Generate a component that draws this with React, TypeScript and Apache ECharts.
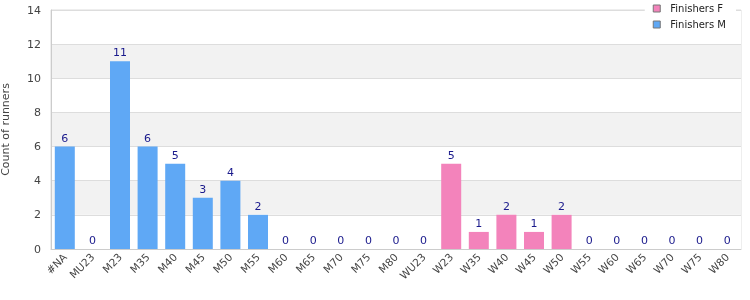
import React, { useEffect, useRef } from "react";
import * as echarts from "echarts";

const categories = ["#NA","MU23","M23","M35","M40","M45","M50","M55","M60","M65","M70","M75","M80","WU23","W23","W35","W40","W45","W50","W55","W60","W65","W70","W75","W80"];
const finishersM = [6,0,11,6,5,3,4,2,0,0,0,0,0,null,null,null,null,null,null,null,null,null,null,null,null];
const finishersF = [null,null,null,null,null,null,null,null,null,null,null,null,null,0,5,1,2,1,2,0,0,0,0,0,0];
const yTicks = [0, 14, 2];

export default function App() {
  const ref = useRef<HTMLDivElement>(null);
  useEffect(() => {
    const chart = echarts.init(ref.current!, null, { renderer: "svg" });
    const font = "DejaVu Sans";
    const label = { show: true, position: "top", color: "#1a1a8c", fontSize: 11, fontFamily: font, distance: 3 };
    chart.setOption({
      animation: false,
      textStyle: { fontFamily: font },
      legend: {
        top: 0, right: 14, orient: "vertical", itemWidth: 7, itemHeight: 7, itemGap: 3, icon: "rect",
        backgroundColor: "#fff", padding: [2, 10, 6, 8],
        textStyle: { fontSize: 10, color: "#222", fontFamily: font, lineHeight: 13, padding: [0, 0, 0, 5] },
        data: [
          { name: "Finishers F", itemStyle: { borderColor: "#777", borderWidth: 1 } },
          { name: "Finishers M", itemStyle: { borderColor: "#777", borderWidth: 1 } },
        ],
      },
      grid: { left: 51, right: 9, top: 10, bottom: 51, show: true, borderColor: "#ddd", borderWidth: 1, outerBoundsMode: "none", containLabel: false },
      xAxis: {
        type: "category", data: categories,
        axisLine: { lineStyle: { color: "#ccc" } }, axisTick: { show: false },
        axisLabel: { rotate: 45, fontSize: 10.5, color: "#444", fontFamily: font, interval: 0, margin: 6 },
      },
      yAxis: {
        type: "value", min: yTicks[0], max: yTicks[1], interval: yTicks[2],
        name: "Count of runners", nameLocation: "middle", nameGap: 40,
        nameTextStyle: { fontSize: 11, color: "#444", fontFamily: font },
        axisLine: { show: true, lineStyle: { color: "#ccc" } }, axisTick: { show: false },
        axisLabel: { fontSize: 11, color: "#444", fontFamily: font, margin: 10 },
        splitLine: { lineStyle: { color: "#ddd" } },
        splitArea: { show: true, areaStyle: { color: ["#ffffff", "#f2f2f2"] } },
      },
      series: [
        { name: "Finishers F", type: "bar", stack: "a", data: finishersF, barWidth: 20, itemStyle: { color: "#f383bb" }, label },
        { name: "Finishers M", type: "bar", stack: "a", data: finishersM, barWidth: 20, itemStyle: { color: "#5fa8f5" }, label },
      ],
    });
    return () => chart.dispose();
  }, []);
  return <div ref={ref} style={{ width: 750, height: 300, position: "fixed", left: 0, top: 0 }} />;
}
